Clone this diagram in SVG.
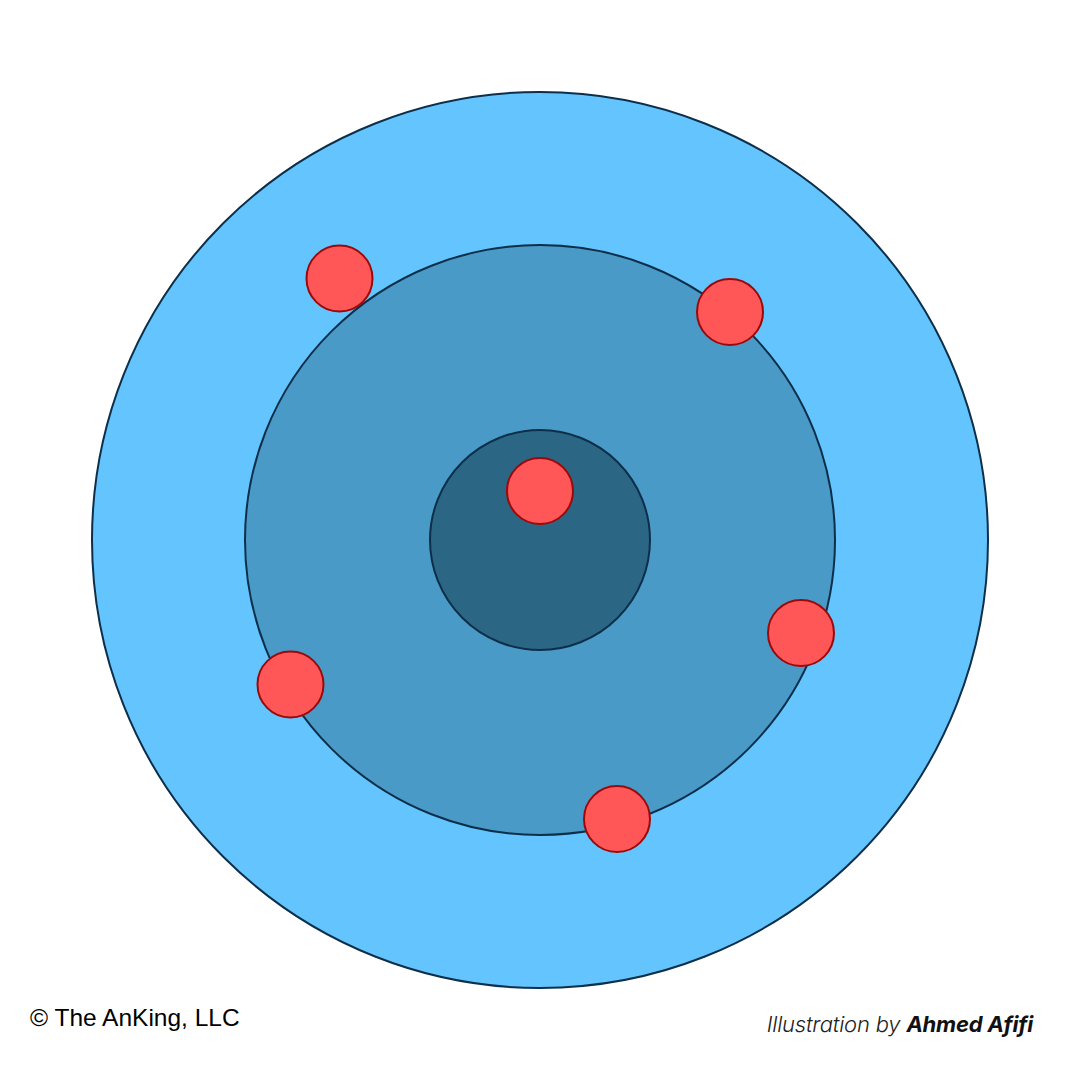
<svg xmlns="http://www.w3.org/2000/svg" width="1080" height="1080" viewBox="0 0 1080 1080">
<style>
.ring{stroke:#0d2f4a;stroke-width:2}
.dot{fill:#ff5757;stroke:#9b0a0a;stroke-width:2}
.copy{font-family:"Liberation Sans",Arial,sans-serif;font-size:24.5px;fill:#000}
.credit{font-family:Inter,"Liberation Sans",sans-serif;font-size:22px;font-style:italic;fill:#222;letter-spacing:-0.2px}
</style>
<rect width="1080" height="1080" fill="#fff"/>
<g id="outer"><circle class="ring" cx="540" cy="540" r="448" fill="#64c4fe"/></g>
<g id="middle"><circle class="ring" cx="540" cy="540" r="295" fill="#4a9ac8"/></g>
<g id="inner"><circle class="ring" cx="540" cy="540" r="110" fill="#2c6685"/></g>
<g id="dots">
<g id="dot1"><circle class="dot" cx="339.5" cy="278.5" r="33"/></g>
<g id="dot2"><circle class="dot" cx="730" cy="312" r="33"/></g>
<g id="dot3"><circle class="dot" cx="540" cy="491" r="33"/></g>
<g id="dot4"><circle class="dot" cx="801" cy="633" r="33"/></g>
<g id="dot5"><circle class="dot" cx="290.5" cy="684.5" r="33"/></g>
<g id="dot6"><circle class="dot" cx="617" cy="819" r="33"/></g>
</g>
<g id="connectors"></g>
<text class="copy" x="30" y="1026">© The AnKing, LLC</text>
<text class="credit" x="1033" y="1032" text-anchor="end"><tspan font-weight="300">Illustration by </tspan><tspan font-weight="700" fill="#111">Ahmed Afifi</tspan></text>
</svg>
